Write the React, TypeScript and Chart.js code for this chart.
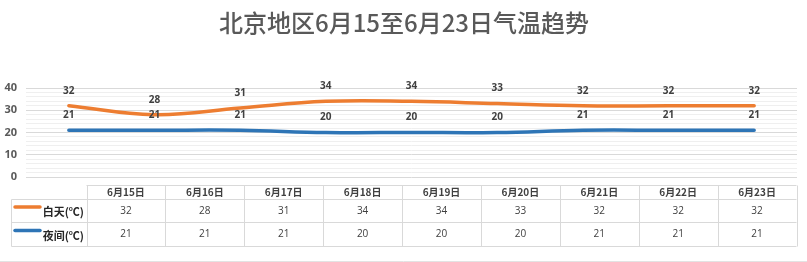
import React, { useEffect, useRef } from "react";
import { Chart, registerables } from "chart.js";

Chart.register(...registerables);

const TITLE = "北京地区6月15至6月23日气温趋势";
const categories = ["6月15日", "6月16日", "6月17日", "6月18日", "6月19日", "6月20日", "6月21日", "6月22日", "6月23日"];
const dayLabel = "白天(℃)";
const nightLabel = "夜间(℃)";
const dayTemps = [32, 28, 31, 34, 34, 33, 32, 32, 32];
const nightTemps = [21, 21, 21, 20, 20, 20, 21, 21, 21];
const yTicks = [0, 10, 20, 30, 40];

const ORANGE = "#ED7D31";
const BLUE = "#2E75B6";
const TEXT = "#595959";
const LABEL = "#404040";
const FONT_LAT = "'Open Sans', 'Noto Sans CJK SC', sans-serif";
const FONT_CJK = "'Noto Sans CJK SC', sans-serif";

const titlePlugin = {
  id: "titleDraw",
  afterDraw(chart: any) {
    const ctx = chart.ctx;
    ctx.save();
    ctx.fillStyle = TEXT;
    ctx.font = `500 24px ${FONT_CJK}`;
    ctx.textAlign = "center";
    ctx.textBaseline = "middle";
    ctx.fillText(TITLE, 404, 23);
    ctx.restore();
  },
};

const labelPlugin = {
  id: "valueLabels",
  afterDatasetsDraw(chart: any) {
    const ctx = chart.ctx;
    ctx.save();
    ctx.fillStyle = LABEL;
    ctx.font = `bold 10px ${FONT_LAT}`;
    ctx.textAlign = "center";
    ctx.textBaseline = "middle";
    chart.data.datasets.forEach((ds: any, i: number) => {
      const meta = chart.getDatasetMeta(i);
      meta.data.forEach((pt: any, j: number) => {
        ctx.fillText(String(ds.data[j]), pt.x, pt.y - 15);
      });
    });
    ctx.restore();
  },
};

const tablePlugin = {
  id: "dataTable",
  afterDraw(chart: any) {
    const ctx = chart.ctx;
    const left = 11.5;
    const colStart = 86.5;
    const right = 796.5;
    const yHead = 185.5;
    const yRow1 = 199.5;
    const yRow2 = 222.5;
    const yEnd = 246.5;
    const n = categories.length;
    const w = (right - colStart) / n;
    ctx.save();
    ctx.strokeStyle = "#D9D9D9";
    ctx.lineWidth = 1;
    ctx.beginPath();
    ctx.moveTo(colStart, yHead); ctx.lineTo(right, yHead);
    ctx.moveTo(left, yRow1); ctx.lineTo(right, yRow1);
    ctx.moveTo(left, yRow2); ctx.lineTo(right, yRow2);
    ctx.moveTo(left, yEnd); ctx.lineTo(right, yEnd);
    ctx.moveTo(left, yRow1); ctx.lineTo(left, yEnd);
    for (let i = 0; i <= n; i++) {
      const x = Math.round(colStart + i * w) + 0.5;
      ctx.moveTo(x, yHead); ctx.lineTo(x, yEnd);
    }
    ctx.stroke();
    ctx.strokeStyle = "#E3E3E3";
    ctx.beginPath();
    ctx.moveTo(0, 261.5); ctx.lineTo(807, 261.5);
    ctx.stroke();

    ctx.textAlign = "center";
    ctx.textBaseline = "middle";
    ctx.fillStyle = LABEL;
    ctx.font = `bold 10px ${FONT_CJK}`;
    categories.forEach((c, i) => {
      ctx.fillText(c, colStart + (i + 0.5) * w, (yHead + yRow1) / 2);
    });
    ctx.font = `10px ${FONT_LAT}`;
    ctx.fillStyle = LABEL;
    dayTemps.forEach((v, i) => {
      ctx.fillText(String(v), colStart + (i + 0.5) * w, (yRow1 + yRow2) / 2);
    });
    nightTemps.forEach((v, i) => {
      ctx.fillText(String(v), colStart + (i + 0.5) * w, (yRow2 + yEnd) / 2);
    });
    const rows = [
      { label: dayLabel, color: ORANGE, y: (yRow1 + yRow2) / 2 - 4 },
      { label: nightLabel, color: BLUE, y: (yRow2 + yEnd) / 2 - 4 },
    ];
    rows.forEach((r) => {
      ctx.strokeStyle = r.color;
      ctx.lineWidth = 3.5;
      ctx.lineCap = "round";
      ctx.beginPath();
      ctx.moveTo(15, r.y);
      ctx.lineTo(40, r.y);
      ctx.stroke();
      ctx.fillStyle = "#262626";
      ctx.font = `bold 11px ${FONT_CJK}`;
      ctx.textAlign = "right";
      ctx.fillText(r.label, 84, r.y + 5);
    });
    ctx.restore();
  },
};

export default function App() {
  const ref = useRef<HTMLCanvasElement>(null);
  useEffect(() => {
    if (!ref.current) return;
    const chart = new Chart(ref.current, {
      type: "line",
      data: {
        labels: categories,
        datasets: [
          {
            label: dayLabel,
            data: dayTemps,
            borderColor: ORANGE,
            backgroundColor: ORANGE,
            borderWidth: 3.5,
            pointRadius: 0,
            tension: 0.4,
            borderCapStyle: "round",
          },
          {
            label: nightLabel,
            data: nightTemps,
            borderColor: BLUE,
            backgroundColor: BLUE,
            borderWidth: 3.5,
            pointRadius: 0,
            tension: 0.4,
            borderCapStyle: "round",
          },
        ],
      },
      options: {
        animation: false,
        responsive: false,
        layout: { padding: { top: 88, bottom: 85, left: 0, right: 10 } },
        plugins: {
          legend: { display: false },
          title: { display: false },
          tooltip: { enabled: false },
        },
        scales: {
          x: {
            type: "category",
            display: false,
            offset: true,
          },
          y: {
            min: yTicks[0],
            max: yTicks[yTicks.length - 1],
            afterFit: (s: any) => { s.width = 26; },
            border: { display: false },
            grid: {
              drawTicks: false,
              color: (c: any) => (c.tick && c.tick.value % 10 === 0 ? "#D9D9D9" : "#EFEFEF"),
              lineWidth: 1,
            },
            ticks: {
              stepSize: 2,
              autoSkip: false,
              padding: 9,
              color: TEXT,
              font: { size: 11, weight: "bold", family: FONT_LAT },
              callback: (v: any) => (yTicks.includes(Number(v)) ? String(v) : ""),
            },
          },
        },
      },
      plugins: [titlePlugin, labelPlugin, tablePlugin],
    });
    return () => chart.destroy();
  }, []);
  return (
    <div style={{ position: "fixed", left: 0, top: 0, width: 807, height: 262, background: "#fff" }}>
      <canvas ref={ref} width={807} height={262} style={{ display: "block", width: 807, height: 262 }} />
    </div>
  );
}
